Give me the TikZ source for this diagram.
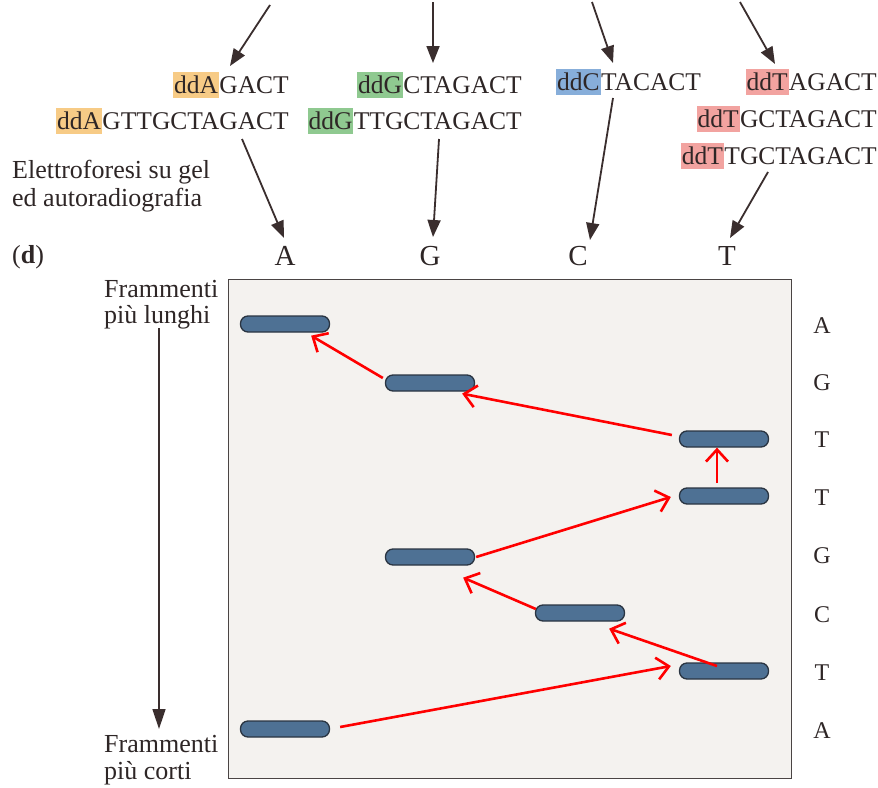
\documentclass[tikz,border=0pt]{standalone}
\usepackage{fontspec}
\setmainfont{Liberation Serif}
\usetikzlibrary{arrows.meta,calc}
\definecolor{ink}{HTML}{2E2626}
\definecolor{arr}{HTML}{3A2E2E}
\definecolor{bandc}{HTML}{4E7194}
\definecolor{bandedge}{HTML}{2A3542}
\definecolor{hlA}{HTML}{F7CB86}
\definecolor{hlG}{HTML}{8FC990}
\definecolor{hlC}{HTML}{87AEDA}
\definecolor{hlT}{HTML}{F2A3A0}
\definecolor{gel}{HTML}{F4F2EF}
\definecolor{gelborder}{HTML}{4A4444}
\tikzset{
  seq/.style={font=\fontsize{25.5}{30}\selectfont, text=ink, inner sep=0pt},
  hl/.style={seq, fill=#1, inner xsep=1pt, inner ysep=0pt, text height=21pt, text depth=5pt},
  lab/.style={font=\fontsize{26}{30}\selectfont, text=ink, inner sep=0pt},
  lane/.style={font=\fontsize{29}{33}\selectfont, text=ink, inner sep=0pt},
  rlab/.style={font=\fontsize{24}{28}\selectfont, text=ink, inner sep=0pt},
  blk/.style={draw=arr, line width=1.8pt, -{Triangle[length=17pt,width=13pt]}},
  band/.style={draw=bandedge, line width=1.3pt, fill=bandc, rounded corners=7.5pt,
    minimum width=89pt, minimum height=16pt, inner sep=0pt},
  red/.style={draw=red, line width=2.6pt, -{Straight Barb[length=12pt,width=22pt,line width=2.6pt]}}
}
\begin{document}
\begin{tikzpicture}[x=1pt,y=-1pt]
\useasboundingbox (0,0) rectangle (878,787);
\fill[white] (0,0) rectangle (878,787);

% sequences
\node[seq, anchor=base east] (a1) at (289,93) {GACT};
\node[hl=hlA, anchor=base east] (a1h) at (a1.base west) {ddA};
\node[seq, anchor=base east] (a2) at (289,129) {GTTGCTAGACT};
\node[hl=hlA, anchor=base east] (a2h) at (a2.base west) {ddA};
\node[seq, anchor=base east] (g1) at (522,93) {CTAGACT};
\node[hl=hlG, anchor=base east] (g1h) at (g1.base west) {ddG};
\node[seq, anchor=base east] (g2) at (522,129) {TTGCTAGACT};
\node[hl=hlG, anchor=base east] (g2h) at (g2.base west) {ddG};
\node[hl=hlC, anchor=base west] (c1h) at (556,90) {ddC};
\node[seq, anchor=base west] (c1) at (c1h.base east) {TACACT};
\node[seq, anchor=base east] (t1) at (877,90) {AGACT};
\node[hl=hlT, anchor=base east] (t1h) at (t1.base west) {ddT};
\node[seq, anchor=base east] (t2) at (877,127) {GCTAGACT};
\node[hl=hlT, anchor=base east] (t2h) at (t2.base west) {ddT};
\node[seq, anchor=base east] (t3) at (877,164) {TGCTAGACT};
\node[hl=hlT, anchor=base east] (t3h) at (t3.base west) {ddT};

% left labels
\node[lab, anchor=base west] (el1) at (12,178) {Elettroforesi su gel};
\node[lab, anchor=base west] (el2) at (12,206) {ed autoradiografia};
\node[lab, anchor=base west] (d) at (12,263) {(\textbf{d})};

% lane letters
\node[lane, anchor=base] (lA) at (285,265) {A};
\node[lane, anchor=base] (lG) at (430,265) {G};
\node[lane, anchor=base] (lC) at (578,265) {C};
\node[lane, anchor=base] (lT) at (727,265) {T};

% incoming arrows (top)
\coordinate (inA) at (270,5);
\coordinate (inG) at (433,2);
\coordinate (inC) at (592,2);
\coordinate (inT) at (740,2);
\draw[blk] (inA) -- (230,66);
\draw[blk] (inG) -- (433,63);
\draw[blk] (inC) -- (613,63);
\draw[blk] (inT) -- (775,64);

% arrows to lanes
\coordinate (oA) at (242,139);
\coordinate (oG) at (439,139);
\coordinate (oC) at (613,98);
\coordinate (oT) at (768,172);
\draw[blk] (oA) -- (284,238);
\draw[blk] (oG) -- (433,237);
\draw[blk] (oC) -- (590,240);
\draw[blk] (oT) -- (730,238);

% gel
\node[draw=gelborder, line width=1.4pt, fill=gel, minimum width=563pt, minimum height=499pt,
  inner sep=0pt, anchor=north west] (gelbox) at (228,279) {};

% Frammenti labels
\node[lab, anchor=base west] (fl1) at (104,297) {Frammenti};
\node[lab, anchor=base west] (fl2) at (104,323) {più lunghi};
\node[lab, anchor=base west] (fc1) at (104,752) {Frammenti};
\node[lab, anchor=base west] (fc2) at (104,779) {più corti};
\coordinate (vtop) at (159,328);
\coordinate (vbot) at (159,729);
\draw[draw=arr, line width=1.4pt, -{Triangle[length=20pt,width=13pt]}] (vtop) -- (vbot);

% bands
\node[band] (b1) at (285,324) {};
\node[band] (b2) at (430,383) {};
\node[band] (b3) at (724,439) {};
\node[band] (b4) at (724,496) {};
\node[band] (b5) at (430,557) {};
\node[band] (b6) at (580,613) {};
\node[band] (b7) at (724,671) {};
\node[band] (b8) at (285,729) {};

% right labels
\node[rlab, anchor=base] (r1) at (822,333) {A};
\node[rlab, anchor=base] (r2) at (822,390) {G};
\node[rlab, anchor=base] (r3) at (822,447) {T};
\node[rlab, anchor=base] (r4) at (822,505) {T};
\node[rlab, anchor=base] (r5) at (822,563) {G};
\node[rlab, anchor=base] (r6) at (822,622) {C};
\node[rlab, anchor=base] (r7) at (822,680) {T};
\node[rlab, anchor=base] (r8) at (822,738) {A};

% reading path
\draw[red] ($(b8.east)+(10,-2)$) -- ($(b7.west)+(-8,-5)$);
\draw[red] ($(b7.center)+(-7,-5)$) -- ($(b6.south east)+(-16,7)$);
\draw[red] ($(b6.west)+(1,-4)$) -- ($(b5.south east)+(-12,12)$);
\draw[red] ($(b5.east)+(1,0)$) -- ($(b4.west)+(-8,1)$);
\draw[red] ($(b4.center)+(-7,-13)$) -- ($(b3.south)+(-7,0)$);
\draw[red] ($(b3.west)+(-7,-4)$) -- ($(b2.south east)+(-13,2)$);
\draw[red] ($(b2.west)+(-2,-5)$) -- ($(b1.south east)+(-19,3)$);
\end{tikzpicture}
\end{document}
